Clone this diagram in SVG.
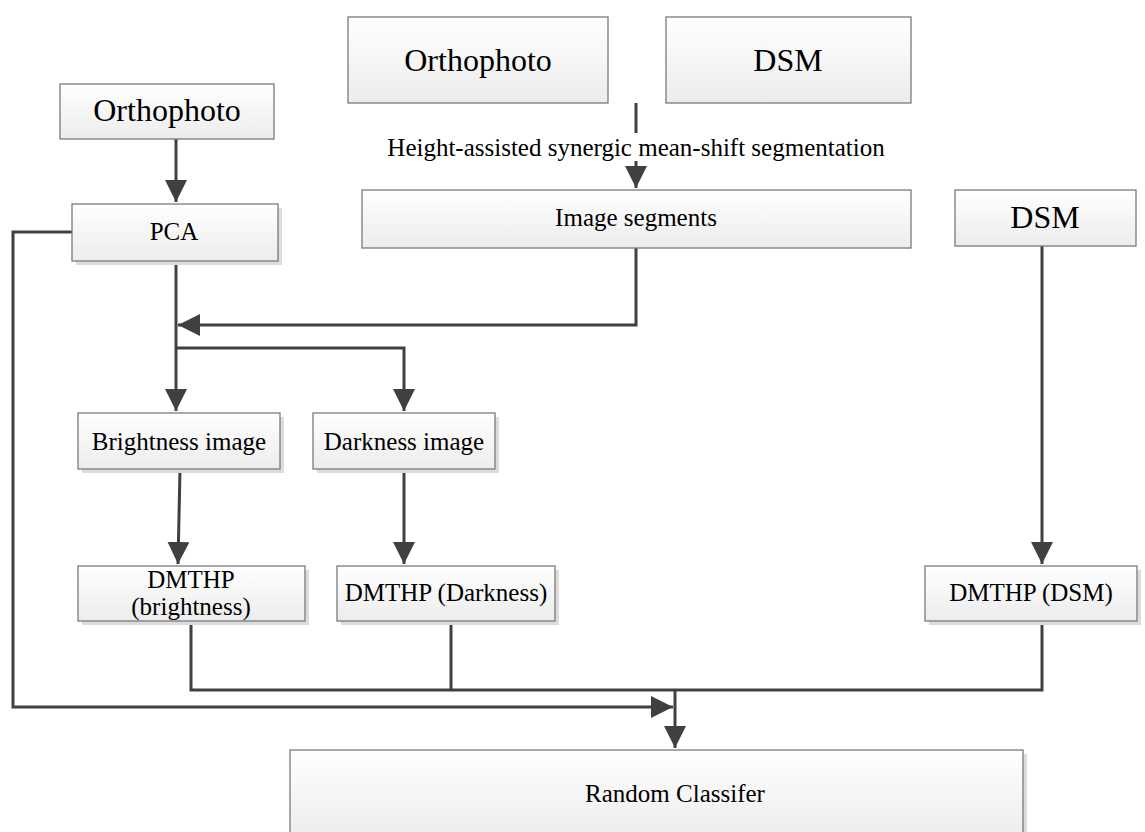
<svg xmlns="http://www.w3.org/2000/svg" width="1145" height="832" viewBox="0 0 1145 832">
<style>
.box{fill:url(#g);stroke:#7a7a7a;stroke-width:1.3}
.sh{fill:#dcdcdc}
.t{font-family:"Liberation Serif","Times New Roman",serif;font-size:25px;fill:#000;text-anchor:middle}
.big{font-size:32px}
.c{fill:none;stroke:#404040;stroke-width:3}
</style>
<defs>
<linearGradient id="g" x1="0" y1="0" x2="0" y2="1">
<stop offset="0" stop-color="#ffffff"/>
<stop offset="1" stop-color="#ececec"/>
</linearGradient>
<marker id="a" markerUnits="userSpaceOnUse" markerWidth="24" markerHeight="22" refX="22" refY="11" orient="auto">
<path d="M0,0 L22,11 L0,22 z" fill="#404040"/>
</marker>
</defs>
<rect width="1145" height="832" fill="#fff"/>

<g id="connectors">
<path class="c" d="M176,139 V202" marker-end="url(#a)"/>
<path class="c" d="M636,103 V188" marker-end="url(#a)"/>
<path class="c" d="M636,248 V325 H178" marker-end="url(#a)"/>
<path class="c" d="M176,261 V411" marker-end="url(#a)"/>
<path class="c" d="M176,348 H404 V411" marker-end="url(#a)"/>
<path class="c" d="M180,469 L178,564" marker-end="url(#a)"/>
<path class="c" d="M404,469 V564" marker-end="url(#a)"/>
<path class="c" d="M1042,246 V564" marker-end="url(#a)"/>
<path class="c" d="M191,621 V690 H1042 V621"/>
<path class="c" d="M451,621 V690"/>
<path class="c" d="M72,232 H13 V707 H673" marker-end="url(#a)"/>
<path class="c" d="M675,690 V748" marker-end="url(#a)"/>
<rect x="378" y="133" width="518" height="28" fill="#fff"/>
<text class="t" x="636" y="156">Height-assisted synergic mean-shift segmentation</text>
</g>

<g id="ortho-top">
<rect class="box" x="348" y="17" width="260" height="86"/>
<text class="t big" x="478" y="71">Orthophoto</text>
</g>
<g id="dsm-top">
<rect class="box" x="666" y="17" width="245" height="86"/>
<text class="t big" x="788" y="71">DSM</text>
</g>
<g id="image-segments">
<rect class="box" x="362" y="190" width="549" height="58"/>
<text class="t" x="636" y="226">Image segments</text>
</g>
<g id="ortho-left">
<rect class="box" x="60" y="84" width="214" height="55"/>
<text class="t big" x="167" y="121">Orthophoto</text>
</g>
<g id="pca">
<rect class="sh" x="76" y="208" width="206" height="57"/>
<rect class="box" x="72" y="204" width="206" height="57"/>
<text class="t" x="174" y="240">PCA</text>
</g>
<g id="dsm-right">
<rect class="box" x="955" y="190" width="181" height="56"/>
<text class="t big" x="1045" y="228">DSM</text>
</g>
<g id="brightness-image">
<rect class="sh" x="82" y="417" width="202" height="56"/>
<rect class="box" x="78" y="413" width="202" height="56"/>
<text class="t" x="179" y="450">Brightness image</text>
</g>
<g id="darkness-image">
<rect class="sh" x="317" y="417" width="182" height="56"/>
<rect class="box" x="313" y="413" width="182" height="56"/>
<text class="t" x="404" y="450">Darkness image</text>
</g>
<g id="dmthp-brightness">
<rect class="sh" x="82" y="570" width="227" height="55"/>
<rect class="box" x="78" y="566" width="227" height="55"/>
<text class="t" x="191" y="588">DMTHP</text>
<text class="t" x="191" y="615">(brightness)</text>
</g>
<g id="dmthp-darkness">
<rect class="sh" x="341" y="570" width="218" height="55"/>
<rect class="box" x="337" y="566" width="218" height="55"/>
<text class="t" x="446" y="601">DMTHP (Darkness)</text>
</g>
<g id="dmthp-dsm">
<rect class="sh" x="929" y="570" width="212" height="55"/>
<rect class="box" x="925" y="566" width="212" height="55"/>
<text class="t" x="1031" y="601">DMTHP (DSM)</text>
</g>
<g id="random-classifier">
<rect class="sh" x="294" y="754" width="733" height="90"/>
<rect class="box" x="290" y="750" width="733" height="90"/>
<text class="t" x="675" y="802">Random Classifer</text>
</g>
</svg>
